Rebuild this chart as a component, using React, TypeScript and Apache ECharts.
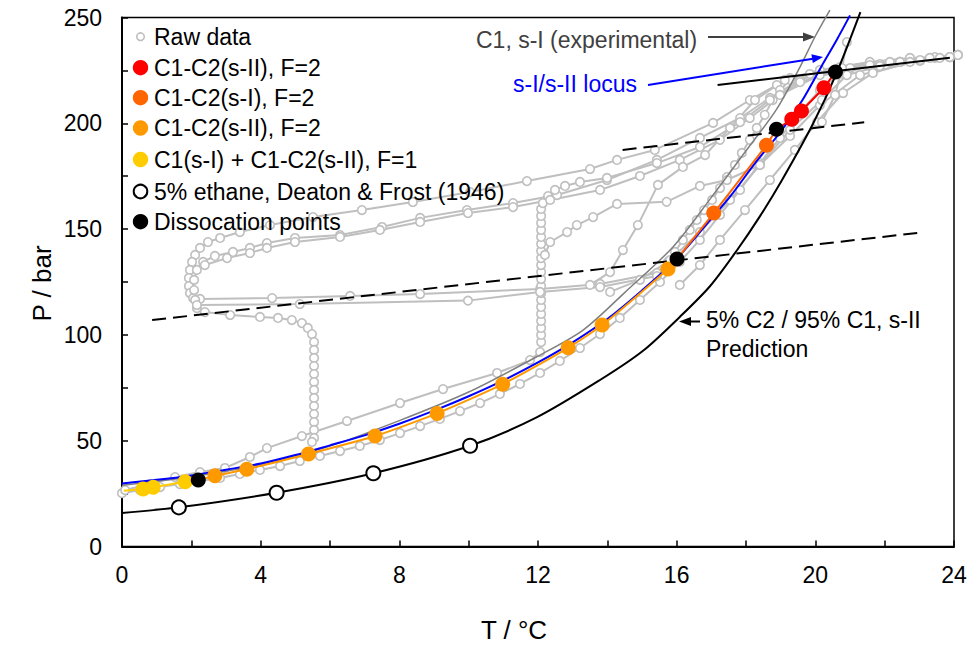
import React, { useEffect, useRef } from 'react';
import * as echarts from 'echarts';

const FONT = '"Liberation Sans", Arial, Helvetica, sans-serif';

type Pt = [number, number];

// ---------- Raw data runs (T °C, P bar) ----------
const rawRun1: Pt[] = [[24.11,232.3],[23.45,231.3],[22.73,230.9],[21.57,229.0],[20.13,225.2],[19.27,221.4],[18.89,218.1],[18.11,211.0],[17.05,200.2],[15.37,187.4],[14.28,182.7],[13.50,178.4],[11.68,172.7],[10.04,167.5],[8.39,162.8],[6.92,159.0],[5.51,155.7],[4.27,151.9],[3.40,148.6],[2.83,145.8],[2.48,143.9],[2.25,141.1],[2.11,137.8],[2.02,134.5],[1.96,130.7],[1.93,126.9],[1.93,123.1],[1.96,119.8],[2.05,117.4],[2.25,117.0],[4.33,117.4],[6.58,118.4],[8.60,119.3],[12.06,121.7],[13.79,124.1],[15.43,129.3],[15.75,134.5],[15.95,139.2],[16.18,144.9],[16.38,149.6],[16.58,154.3],[16.79,159.0],[17.02,163.8],[17.25,169.4],[17.45,174.6],[17.68,180.3],[17.88,186.0],[18.11,192.2],[18.31,197.8],[18.54,204.0],[18.77,211.0],[18.98,215.7],[19.27,220.5],[19.84,223.3],[20.71,225.7],[21.57,227.5],[22.44,229.0],[23.30,230.9],[24.11,232.3]];
const rawRun2: Pt[] = [[23.88,231.3],[22.15,229.0],[20.71,226.6],[19.56,220.5],[18.69,212.0],[17.83,202.5],[16.67,193.1],[15.43,182.7],[13.99,173.2],[12.55,166.1],[11.28,162.3],[9.95,159.0],[8.60,155.3],[7.50,151.0],[6.29,147.2],[4.99,145.8],[4.18,143.4],[3.69,141.1],[3.20,139.2],[2.68,137.3],[2.34,134.5],[2.16,130.7],[2.08,126.0],[2.08,121.2],[2.11,116.5],[2.16,112.7],[2.39,110.8],[3.12,109.4],[3.98,108.5],[4.50,108.0],[4.90,107.0],[5.19,105.6],[5.36,103.3],[5.48,100.4],[5.54,96.6],[5.54,92.9],[5.54,89.1],[5.54,85.3],[5.54,81.5],[5.54,77.7],[5.54,74.0],[5.54,70.2],[5.54,66.4],[5.54,62.6],[5.54,58.8],[5.54,55.1],[5.54,51.3],[5.48,49.4]];
const rawRun3: Pt[] = [[0.09,26.7],[0.81,29.5],[1.53,32.8],[2.25,35.2],[2.97,37.1],[3.69,42.3],[4.18,46.5],[5.19,52.2],[6.49,59.3],[8.02,67.8],[9.26,74.4],[10.82,82.0],[11.77,88.1],[12.06,91.9],[12.09,96.6],[12.09,100.0],[12.09,103.3],[12.09,106.6],[12.09,109.9],[12.09,113.2],[12.09,116.5],[12.09,119.8],[12.09,123.1],[12.09,126.4],[12.09,129.7],[12.09,133.0],[12.09,136.3],[12.09,139.7],[12.09,143.0],[12.09,146.3],[12.09,149.6],[12.09,152.9],[12.09,156.2],[12.09,159.5],[12.14,162.3],[12.29,165.6],[12.49,168.5],[12.78,170.4],[13.21,172.3],[13.99,174.2],[15.43,181.2],[16.67,188.8],[17.83,200.6],[18.69,211.0],[19.56,219.5],[21.00,226.1],[22.44,229.0],[23.88,231.3]];
const rawRun4: Pt[] = [[2.39,133.0],[3.03,136.3],[3.69,138.7],[4.18,141.1],[4.99,143.9],[6.29,146.3],[7.44,149.6],[8.60,153.4],[9.98,157.6],[11.28,160.4],[12.35,163.8],[13.79,168.5],[14.94,175.1],[16.09,182.7],[17.25,192.2],[18.11,202.5],[18.98,213.4],[20.13,222.8],[21.86,228.0],[23.59,230.9]];
const rawRun5: Pt[] = [[2.16,114.1],[5.13,114.6],[9.98,116.2],[12.06,120.3],[13.79,122.6],[15.43,127.8],[15.86,134.5]];
const rawRun6: Pt[] = [[12.20,137.8],[12.35,143.9],[12.84,148.6],[13.12,151.9],[13.59,155.7],[14.28,161.9],[15.71,162.9],[16.67,170.4],[17.45,173.2],[18.40,180.3],[19.27,194.0],[20.13,208.5],[21.29,222.8],[23.02,229.5]];
const rawRun7: Pt[] = [[13.50,123.6],[14.08,129.7],[14.45,140.1],[14.88,151.9],[15.46,170.9],[16.18,179.4],[16.82,185.0],[17.54,197.8],[18.26,211.0],[19.12,220.5]];
const rawRun8: Pt[] = [[16.09,123.6],[16.67,133.0],[17.25,144.9],[17.97,159.0],[18.69,173.2],[19.41,187.4],[20.05,200.6],[20.80,214.3],[21.66,223.8],[22.73,229.0],[23.88,231.3]];
const rawRun9: Pt[] = [[14.08,120.3],[14.94,126.0],[15.81,135.4],[16.67,148.6],[17.54,163.8],[18.40,180.3],[19.27,196.9],[20.19,211.0],[20.91,222.8],[21.86,227.1],[23.02,229.9]];
const rawRun10: Pt[] = [[20.19,200.6],[20.57,213.4],[20.77,226.1],[20.91,238.4]];
const rawRunEq: Pt[] = [[0,25.2],[0.52,26.7],[1.10,28.1],[1.67,29.5],[2.25,31.0],[2.83,32.4],[3.40,34.3],[3.98,36.2],[4.56,38.0],[5.13,40.4],[5.71,42.8],[6.29,45.1],[6.86,47.5],[7.44,50.3],[8.02,53.6],[8.60,56.9],[9.17,60.3],[9.75,64.0],[10.33,67.8],[10.90,72.1],[11.48,76.8],[12.06,82.0],[12.63,87.7],[13.21,93.8],[13.79,100.4],[14.36,108.0],[14.94,116.5],[15.52,125.0],[16.09,134.5],[16.67,144.9],[17.25,156.7],[17.83,168.5],[18.40,181.2],[18.98,193.1],[19.56,205.4],[20.13,215.7],[20.71,223.3],[21.57,227.1],[22.44,229.0],[23.45,230.9],[24.11,232.3]];

// ---------- Model / reference curves ----------
const predictionCurve: Pt[] = [[0,15.8],[1.64,18.5],[4.46,25.4],[7.25,34.6],[10.04,47.6],[11.96,61.0],[13.8,78.8],[15.03,92.5],[16.09,108.5],[16.96,123.0],[17.74,140.0],[18.4,156.0],[19.04,173.2],[19.94,200.0],[20.61,223.6],[21.3,252.5]];
const c1ExperimentalCurve: Pt[] = [[0,29.0],[2,33.0],[4,38.8],[6,47.5],[8,59.5],[10,73.0],[12,90.0],[13.3,102.3],[14.5,120.0],[15.9,141.7],[17,165.0],[18,187.0],[18.88,206.6],[19.56,226.7],[19.99,240.9],[20.42,253.5]];
const locusCurve: Pt[] = [[0,29.8],[1,31.5],[2,33.6],[3,36.3],[4,39.2],[5,43.2],[6,47.8],[7,52.5],[8,58.0],[9,64.2],[10,71.0],[11,78.5],[12,87.0],[13,96.5],[14,107.5],[15,121.0],[16,136.0],[17,155.0],[17.54,165.3],[18.3,182.0],[19,196.0],[19.63,211.0],[20.18,227.0],[20.62,239.5],[21.0,251.0]];

// tie lines
const dashedLow: Pt[] = [[0.87,107.0],[22.96,148.2]];
const dashedMid: Pt[] = [[14.44,187.4],[21.41,200.5]];
const solidTop: Pt[] = [[17.18,218.1],[23.88,231.0]];

// ---------- Measured points ----------
const yellowF1Pts: Pt[] = [[0.61,27.2],[0.90,28.0],[1.82,30.6]];
const yellowF1Line: Pt[] = [[0.05,26.3],[0.61,27.2],[0.90,28.0],[1.82,30.6],[2.20,31.4]];
const orangeSIIPts: Pt[] = [[2.68,33.4],[3.60,36.5],[5.38,43.7],[7.30,52.2],[9.09,62.9],[10.98,76.7],[12.87,93.9],[13.85,104.7],[15.75,131.2]];
const orangeSIILine: Pt[] = [[2.20,31.4],[2.68,33.4],[3.60,36.5],[5.38,43.7],[7.30,52.2],[9.09,62.9],[10.98,76.7],[12.87,93.9],[13.85,104.7],[15.75,131.2],[16.01,135.9]];
const orangeSIPts: Pt[] = [[17.07,157.6],[18.59,189.6]];
const orangeSILine: Pt[] = [[15.75,131.2],[16.01,135.9],[17.07,157.6],[18.59,189.6],[18.88,197.2]];
const redSIIPts: Pt[] = [[19.32,201.9],[19.60,205.8],[20.25,216.8]];
const redSIILine: Pt[] = [[18.88,197.2],[19.32,201.9],[19.60,205.8],[20.25,216.8],[20.58,224.3]];
const deatonFrost: Pt[] = [[1.64,18.5],[4.46,25.4],[7.25,34.6],[10.04,47.6]];
const dissociationPts: Pt[] = [[2.20,31.4],[16.01,135.9],[18.88,197.2],[20.58,224.3]];

const rawRuns: Pt[][] = [rawRunEq, rawRun1, rawRun2, rawRun3, rawRun4, rawRun5, rawRun6, rawRun7, rawRun8, rawRun9, rawRun10];

const legendItems = [
  { label: 'Raw data', kind: 'raw' },
  { label: 'C1-C2(s-II), F=2', kind: 'fill', color: '#FF0000' },
  { label: 'C1-C2(s-I), F=2', kind: 'fill', color: '#FF6600' },
  { label: 'C1-C2(s-II), F=2', kind: 'fill', color: '#FF9900' },
  { label: 'C1(s-I) + C1-C2(s-II), F=1', kind: 'fill', color: '#FFCC00' },
  { label: '5% ethane, Deaton & Frost (1946)', kind: 'open' },
  { label: 'Dissocation points', kind: 'fill', color: '#000000' },
];
const legendY = [36.7, 67.7, 97.7, 128, 159.5, 191.5, 221.7];

export default function App() {
  const ref = useRef<HTMLDivElement>(null);

  useEffect(() => {
    document.body.style.margin = '0';
    const chart = echarts.init(ref.current as HTMLDivElement, null, { renderer: 'svg' });

    const rawSeries = rawRuns.map((d) => ({
      type: 'line',
      data: d,
      symbol: 'circle',
      symbolSize: 8.5,
      showSymbol: true,
      showAllSymbol: true,
      clip: false,
      silent: true,
      lineStyle: { color: '#BFBFBF', width: 2 },
      itemStyle: { color: '#FFFFFF', borderColor: '#BFBFBF', borderWidth: 1.6, opacity: 1 },
      z: 2,
    }));

    const lineS = (data: Pt[], color: string, width: number, opts: any = {}) => ({
      type: 'line',
      data,
      symbol: 'none',
      showSymbol: false,
      clip: false,
      silent: true,
      lineStyle: { color, width, opacity: 1, ...(opts.lineStyle || {}) },
      smooth: opts.smooth ?? false,
      z: opts.z ?? 3,
    });

    const scatterS = (data: Pt[], color: string, size: number, z: number, extra: any = {}) => ({
      type: 'scatter',
      data,
      symbol: 'circle',
      symbolSize: size,
      silent: true,
      clip: false,
      itemStyle: { color, opacity: 1, ...extra },
      z,
    });

    const graphics: any[] = [];
    legendItems.forEach((it, i) => {
      const cy = legendY[i];
      if (it.kind === 'raw') {
        graphics.push({ type: 'circle', shape: { cx: 140.5, cy, r: 3.8 }, style: { fill: '#fff', stroke: '#BFBFBF', lineWidth: 1.6 }, z: 100 });
      } else if (it.kind === 'open') {
        graphics.push({ type: 'circle', shape: { cx: 140.5, cy, r: 6.8 }, style: { fill: '#fff', stroke: '#000', lineWidth: 2 }, z: 100 });
      } else {
        graphics.push({ type: 'circle', shape: { cx: 140.5, cy, r: 7.7 }, style: { fill: it.color }, z: 100 });
      }
      graphics.push({
        type: 'text', x: 154, y: cy, z: 100,
        style: { text: it.label, font: `23px ${FONT}`, fill: '#000', verticalAlign: 'middle', align: 'left' },
      });
    });

    // annotations
    graphics.push(
      { type: 'text', x: 476, y: 40, z: 100, style: { text: 'C1, s-I (experimental)', font: `23px ${FONT}`, fill: '#404040', verticalAlign: 'middle', align: 'left' } },
      { type: 'line', z: 100, shape: { x1: 708, y1: 37, x2: 805, y2: 37 }, style: { stroke: '#404040', lineWidth: 2 } },
      { type: 'polygon', z: 100, shape: { points: [[815, 37], [803, 32.5], [803, 41.5]] }, style: { fill: '#404040' } },
      { type: 'text', x: 513, y: 84, z: 100, style: { text: 's-I/s-II locus', font: `23px ${FONT}`, fill: '#0000FF', verticalAlign: 'middle', align: 'left' } },
      { type: 'line', z: 100, shape: { x1: 648, y1: 85, x2: 813, y2: 58.7 }, style: { stroke: '#0000FF', lineWidth: 2 } },
      { type: 'polygon', z: 100, shape: { points: [[823, 57], [812.8, 63.1], [811.4, 54.3]] }, style: { fill: '#0000FF' } },
      { type: 'text', x: 706, y: 320, z: 100, style: { text: '5% C2 / 95% C1, s-II', font: `23px ${FONT}`, fill: '#000', verticalAlign: 'middle', align: 'left' } },
      { type: 'text', x: 706, y: 349, z: 100, style: { text: 'Prediction', font: `23px ${FONT}`, fill: '#000', verticalAlign: 'middle', align: 'left' } },
      { type: 'line', z: 100, shape: { x1: 689, y1: 321.5, x2: 700, y2: 321.5 }, style: { stroke: '#000', lineWidth: 2 } },
      { type: 'polygon', z: 100, shape: { points: [[679, 321.5], [691, 317], [691, 326]] }, style: { fill: '#000' } },
      // axis titles
      { type: 'text', x: 42, y: 283.5, rotation: Math.PI / 2, z: 100, style: { text: 'P / bar', font: `26px ${FONT}`, fill: '#000', verticalAlign: 'middle', align: 'center' } },
      { type: 'text', x: 514, y: 630, z: 100, style: { text: 'T / °C', font: `26px ${FONT}`, fill: '#000', verticalAlign: 'middle', align: 'center' } },
    );

    const axisCommon = {
      type: 'value',
      axisLine: { show: true, onZero: false, lineStyle: { color: '#000', width: 2 } },
      axisTick: { show: true, inside: true, length: 6, lineStyle: { color: '#000', width: 1.5 } },
      minorTick: { show: true, splitNumber: 2, length: 6, lineStyle: { color: '#000', width: 1.5 } },
      splitLine: { show: false },
      minorSplitLine: { show: false },
    };

    const option: any = {
      animation: false,
      backgroundColor: '#fff',
      grid: { left: 122, right: 17, top: 17.5, bottom: 99.5, show: true, borderColor: '#000', borderWidth: 1.5, backgroundColor: 'transparent' },
      xAxis: {
        ...axisCommon,
        min: 0, max: 24, interval: 4,
        axisLabel: { color: '#000', fontSize: 23, fontFamily: FONT, margin: 17 },
      },
      yAxis: {
        ...axisCommon,
        min: 0, max: 250, interval: 50,
        axisLabel: { color: '#000', fontSize: 23, fontFamily: FONT, margin: 20 },
      },
      series: [
        ...rawSeries,
        lineS(predictionCurve, '#000000', 2, { smooth: 0.3, z: 3 }),
        lineS(c1ExperimentalCurve, '#7F7F7F', 1.5, { smooth: 0.3, z: 3 }),
        lineS(locusCurve, '#0000FF', 2, { smooth: 0.3, z: 3 }),
        lineS(dashedLow, '#000000', 2, { lineStyle: { type: [14, 7] }, z: 4 }),
        lineS(dashedMid, '#000000', 2, { lineStyle: { type: [14, 7] }, z: 4 }),
        lineS(solidTop, '#000000', 2, { z: 4 }),
        lineS(yellowF1Line, '#FFCC00', 2, { z: 5 }),
        lineS(orangeSIILine, '#FF9900', 2, { smooth: 0.2, z: 5 }),
        lineS(orangeSILine, '#FF6600', 2, { z: 5 }),
        lineS(redSIILine, '#FF0000', 2, { z: 5 }),
        scatterS(deatonFrost, '#FFFFFF', 14, 6, { borderColor: '#000', borderWidth: 2 }),
        scatterS(yellowF1Pts, '#FFCC00', 15, 6),
        scatterS(orangeSIIPts, '#FF9900', 15, 6),
        scatterS(orangeSIPts, '#FF6600', 15, 6),
        scatterS(redSIIPts, '#FF0000', 15, 6),
        scatterS(dissociationPts, '#000000', 15, 7),
      ],
      graphic: graphics,
    };

    chart.setOption(option);
    return () => chart.dispose();
  }, []);

  return <div ref={ref} style={{ position: 'absolute', left: 0, top: 0, width: 971, height: 646, background: '#fff' }} />;
}
